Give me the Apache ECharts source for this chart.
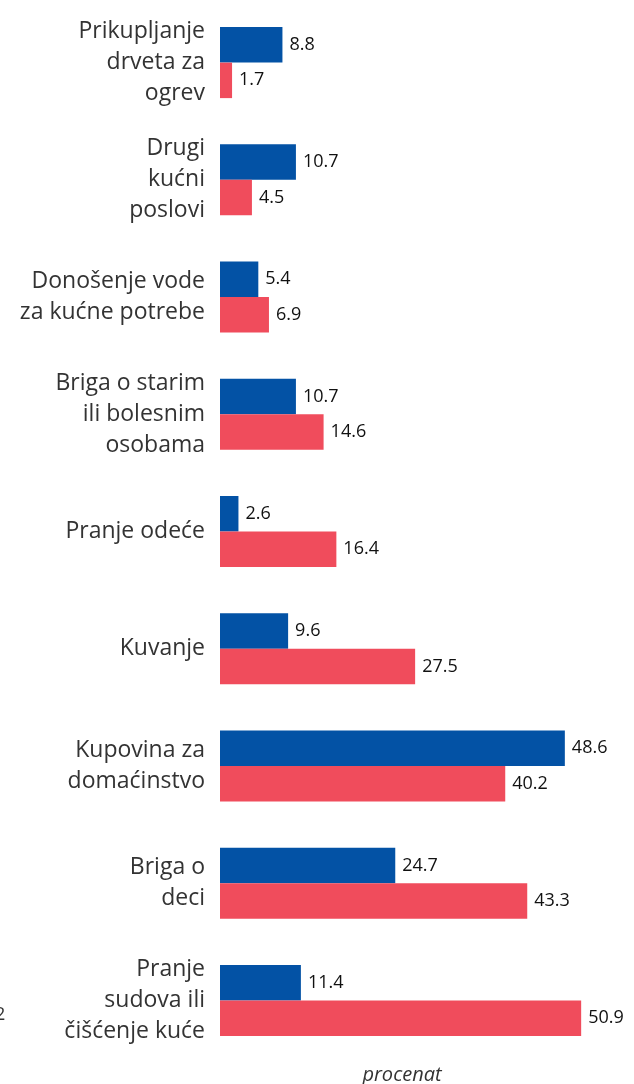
<!DOCTYPE html>
<html>
<head>
<meta charset="utf-8">
<script src="https://cdn.jsdelivr.net/npm/echarts@6/dist/echarts.min.js"></script>
<style>
  html, body { margin: 0; padding: 0; background: #fff; }
  #chart { width: 634px; height: 1084px; }
</style>
</head>
<body>
<div id="chart"></div>
<script>
const categories = [
  'Prikupljanje\ndrveta za\nogrev',
  'Drugi\nkućni\nposlovi',
  'Donošenje vode\nza kućne potrebe',
  'Briga o starim\nili bolesnim\nosobama',
  'Pranje odeće',
  'Kuvanje',
  'Kupovina za\ndomaćinstvo',
  'Briga o\ndeci',
  'Pranje\nsudova ili\nčišćenje kuće'
]
const blueValues = [8.8, 10.7, 5.4, 10.7, 2.6, 9.6, 48.6, 24.7, 11.4]
const redValues = [1.7, 4.5, 6.9, 14.6, 16.4, 27.5, 40.2, 43.3, 50.9]

const chart = echarts.init(document.getElementById('chart'))
const valueLabel = { show: true, position: 'right', distance: 7, color: '#111', fontSize: 18, fontFamily: 'Open Sans' }

chart.setOption({
  animation: false,
  backgroundColor: '#fff',
  textStyle: { fontFamily: 'Open Sans' },
  grid: { left: 220, right: 50, top: 4, bottom: 25, containLabel: false, outerBoundsMode: 'none' },
  xAxis: {
    type: 'value',
    min: 0,
    max: 51.3,
    axisLabel: { show: false },
    axisLine: { show: false },
    axisTick: { show: false },
    splitLine: { show: false },
    name: 'procenat',
    nameLocation: 'middle',
    nameGap: 6,
    nameTextStyle: { fontStyle: 'italic', fontSize: 20, color: '#333', fontFamily: 'Open Sans', verticalAlign: 'top' }
  },
  yAxis: {
    type: 'category',
    inverse: true,
    data: categories,
    axisLine: { show: false },
    axisTick: { show: false },
    axisLabel: { color: '#333', fontSize: 23, lineHeight: 31, margin: 15, align: 'right', fontFamily: 'Open Sans' }
  },
  series: [
    { name: 'Serija 1', type: 'bar', data: blueValues, barWidth: 35.5, barGap: '0%', barCategoryGap: '39%',
      itemStyle: { color: '#0352A5' }, label: valueLabel },
    { name: 'Serija 2', type: 'bar', data: redValues, barWidth: 35.5,
      itemStyle: { color: '#F04C5C' }, label: valueLabel }
  ],
  graphic: [
    { type: 'text', left: -5, top: 1006, style: { text: '2', fontSize: 18, fill: '#333', fontFamily: 'Open Sans' } }
  ]
})
</script>
</body>
</html>
